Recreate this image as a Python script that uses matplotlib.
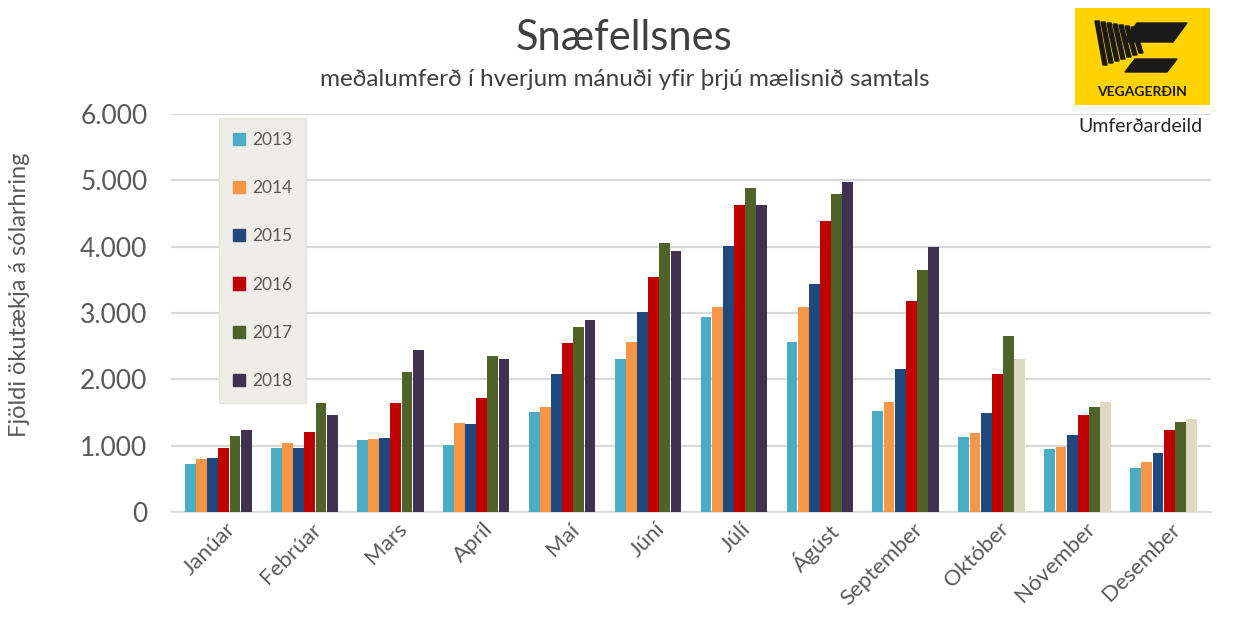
import matplotlib
matplotlib.use("Agg")
import matplotlib.pyplot as plt
import numpy as np
from matplotlib.patches import Rectangle, Polygon

plt.rcParams['font.family'] = ['Lato', 'DejaVu Sans']

months = ["Janúar", "Febrúar", "Mars", "Apríl", "Maí", "Júní", "Júlí",
          "Ágúst", "September", "Október", "Nóvember", "Desember"]
years = ["2013", "2014", "2015", "2016", "2017", "2018"]

v2013 = [725, 965, 1085, 1010, 1505, 2300, 2940, 2560, 1525, 1130, 950, 660]
v2014 = [800, 1040, 1100, 1340, 1585, 2560, 3090, 3090, 1660, 1190, 985, 755]
v2015 = [815, 965, 1115, 1330, 2080, 3015, 4015, 3440, 2155, 1495, 1160, 890]
v2016 = [965, 1210, 1645, 1720, 2550, 3545, 4630, 4390, 3180, 2080, 1465, 1235]
v2017 = [1145, 1645, 2110, 2350, 2790, 4060, 4885, 4800, 3650, 2655, 1580, 1360]
v2018 = [1235, 1465, 2440, 2310, 2900, 3935, 4630, 4975, 4000, 2300, 1660, 1400]
series = [v2013, v2014, v2015, v2016, v2017, v2018]

colors = ["#4BACC6", "#F79646", "#1F497D", "#C00000", "#4F6228", "#403152"]
partial_color = "#DDD9C3"   # 2018 months not yet complete
partial_months = ["Október", "Nóvember", "Desember"]

fig = plt.figure(figsize=(12.35, 6.24), dpi=100)
ax = fig.add_axes([0.1385, 0.1795, 0.842, 0.638])

x = np.arange(len(months))
n = len(series)
group_w = 0.78
bw = group_w / n
for i, (vals, c) in enumerate(zip(series, colors)):
    offs = -group_w / 2 + bw * (i + 0.5)
    cols = [c] * len(months)
    if years[i] == "2018":
        cols = [partial_color if m in partial_months else c for m in months]
    ax.bar(x + offs, vals, width=bw * 0.97, color=cols, label=years[i], zorder=3)

ax.set_xlim(-0.55, 11.55)
ax.set_ylim(0, 6000)
ax.set_yticks(range(0, 6001, 1000))
ax.set_yticklabels(["0", "1.000", "2.000", "3.000", "4.000", "5.000", "6.000"],
                   fontsize=19, color="#595959")
ax.yaxis.grid(True, color="#D9D9D9", linewidth=1.6, zorder=0)
ax.set_axisbelow(True)
for s in ["top", "right", "left"]:
    ax.spines[s].set_visible(False)
ax.spines["bottom"].set_color("#D9D9D9")
ax.spines["bottom"].set_linewidth(1.2)
ax.tick_params(axis="both", length=0)
ax.tick_params(axis="y", pad=17)

ax.set_xticks(x + 0.08)
ax.set_xticklabels(months, rotation=45, ha="right", rotation_mode="anchor",
                   fontsize=16, color="#595959")
ax.tick_params(axis="x", pad=5)

fig.text(20 / 1235, 1 - 295 / 624, "Fjöldi ökutækja á sólarhring", rotation=90,
         ha="center", va="center", fontsize=17, color="#595959")

fig.text(0.505, 1 - 38 / 624, "Snæfellsnes", ha="center", va="center", fontsize=30, color="#404040")
fig.text(0.506, 1 - 79 / 624, "meðalumferð í hverjum mánuði yfir þrjú mælisnið samtals",
         ha="center", va="center", fontsize=17.5, color="#404040")

# legend
leg = ax.legend(loc="upper left", bbox_to_anchor=(0.038, 1.012), frameon=True,
                fontsize=12.5, labelspacing=1.86, handlelength=0.7, handleheight=0.7,
                handletextpad=0.4, borderpad=0.8, fancybox=False)
leg.get_frame().set_facecolor("#EEEDE8")
leg.get_frame().set_edgecolor("#E4E2DA")
leg.get_frame().set_alpha(1)
leg.set_zorder(5)
for t in leg.get_texts():
    t.set_color("#595959")
for h, c in zip(leg.legend_handles, colors):
    h.set_color(c)

# logo
lx0, ly0, lw, lh = 1075 / 1235, 1 - 105 / 624, 135 / 1235, 97 / 624
logo = fig.add_axes([lx0, ly0, lw, lh])
logo.set_xlim(0, 135)
logo.set_ylim(0, 97)
logo.axis("off")
logo.add_patch(Rectangle((0, 0), 135, 97, color="#FFD200"))
logo.add_patch(Polygon([[62, 82], [112, 82], [98, 63], [48, 63]], color="#1A1A1A"))
logo.add_patch(Polygon([[60, 46], [102, 46], [92, 33], [50, 33]], color="#1A1A1A"))
for k in range(7):
    xs = 20 + k * 6
    logo.add_patch(Polygon([[xs, 84 - k], [xs + 4, 84 - k], [xs + 12, 40 + 2 * k], [xs + 8, 40 + 2 * k]],
                           color="#1A1A1A"))
logo.text(67, 13, "VEGAGERÐIN", ha="center", va="center", fontsize=10,
          fontweight="bold", color="#1A1A1A")
fig.text(1140 / 1235, 1 - 127 / 624, "Umferðardeild", ha="center", va="center",
         fontsize=14, color="#262626")

fig.savefig("out.png", dpi=100, facecolor="white")
